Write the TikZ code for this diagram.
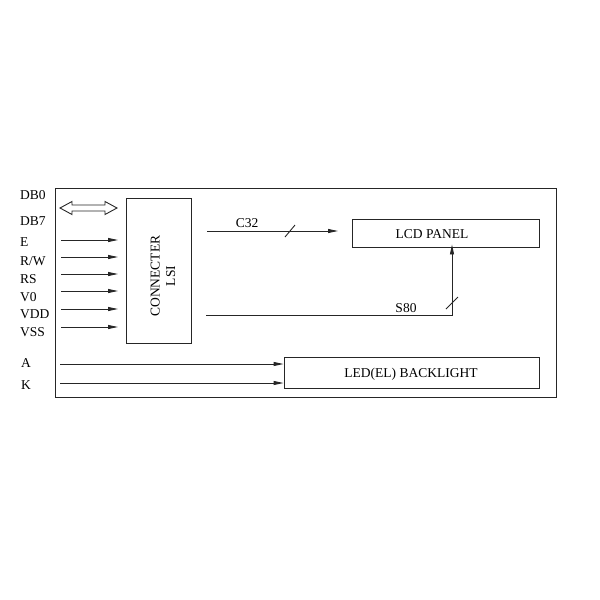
\documentclass[tikz,border=0pt]{standalone}
\usepackage{fontspec}
\setmainfont{Liberation Serif}
\usetikzlibrary{arrows.meta}
\begin{document}
\begin{tikzpicture}[x=1pt,y=-1pt,
  line/.style={draw=black!85,line width=0.9pt},
  arr/.style={line,-{Triangle[length=10pt,width=4pt]}},
  txt/.style={inner sep=0pt,font=\fontsize{13.5}{15.5}\selectfont},
  lbl/.style={txt,anchor=west},
  boxn/.style={line,inner sep=0pt,font=\fontsize{13.5}{15.5}\selectfont}]
\useasboundingbox (0,0) rectangle (600,600);
% frame
\node[boxn,minimum width=501pt,minimum height=209pt] (frame) at (305.5,293) {};
% connecter LSI
\node[boxn,minimum width=65pt,minimum height=145pt] (lsi) at (158.5,270.5) {};
\node[txt,rotate=90,align=center] (lsitxt) at (163,276) {CONNECTER\\LSI};
% LCD panel
\node[boxn,minimum width=187pt,minimum height=28pt] (lcd) at (445.5,233) {};
\node[txt] (lcdtxt) at (432,234) {LCD PANEL};
% backlight
\node[boxn,minimum width=255pt,minimum height=31pt] (led) at (411.5,372.5) {};
\node[txt] (ledtxt) at (411,374) {LED(EL) BACKLIGHT};
% labels
\node[lbl] (db0) at (20,195) {DB0};
\node[lbl] (db7) at (20,221) {DB7};
\node[lbl] (e) at (20,242) {E};
\node[lbl] (rw) at (20,261) {R/W};
\node[lbl] (rs) at (20,279) {RS};
\node[lbl] (v0) at (20,297) {V0};
\node[lbl] (vdd) at (20,314) {VDD};
\node[lbl] (vss) at (20,332) {VSS};
\node[lbl] (a) at (21,363) {A};
\node[lbl] (k) at (21,385) {K};
% double arrow
\draw[line] (60,208) -- (72,201.5) -- (72,205) -- (105,205) -- (105,201.5) -- (117,208)
  -- (105,214.5) -- (105,211) -- (72,211) -- (72,214.5) -- cycle;
% input arrows
\foreach \n/\y in {e/240,rw/257,rs/274,v0/291,vdd/309,vss/327}{
  \coordinate (s\n) at (61,\y);
  \coordinate (t\n) at (118,\y);
  \draw[arr] (s\n) -- (t\n);
}
\coordinate (sa) at (60,364);
\coordinate (sk) at (60,383);
\draw[arr] (sa) -- (sa -| led.west);
\draw[arr] (sk) -- (sk -| led.west);
% C32
\coordinate (c32s) at (207,231);
\coordinate (c32t) at (338,231);
\draw[arr] (c32s) -- (c32t);
\draw[line] (285,237) -- (295,225);
\node[txt] (c32) at (247,223) {C32};
% S80
\coordinate (s80s) at (206,315);
\coordinate (s80c) at (452,315);
\draw[arr] (s80s) -- (s80c) -- ([yshift=3pt]lcd.south -| s80c);
\draw[line] (446,309) -- (458,297);
\node[txt] (s80) at (406,308) {S80};
\end{tikzpicture}
\end{document}
